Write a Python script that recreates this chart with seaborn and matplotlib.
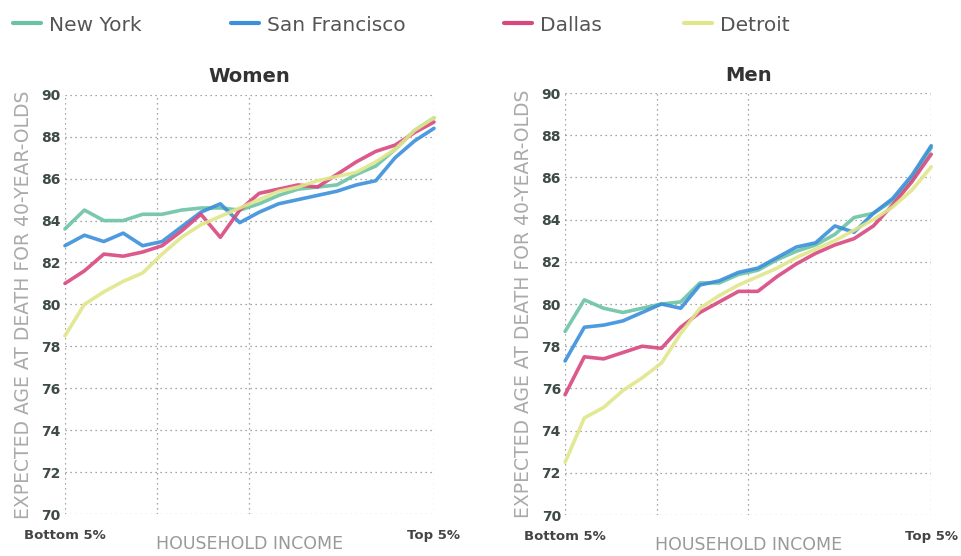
import numpy as np
import pandas as pd
import matplotlib
matplotlib.use('Agg')
import matplotlib.pyplot as plt
import seaborn as sns

# income ventiles, bottom 5% .. top 5%
ventile = list(range(20))
cities = ['New York', 'San Francisco', 'Dallas', 'Detroit']
colors = {'New York': '#6cc3a4', 'San Francisco': '#3b8fdb',
          'Dallas': '#d8487f', 'Detroit': '#e0e68a'}

women_ny = [83.6, 84.5, 84.0, 84.0, 84.3, 84.3, 84.5, 84.6, 84.6, 84.5,
            84.8, 85.2, 85.5, 85.6, 85.7, 86.2, 86.6, 87.4, 88.3, 88.9]
women_sf = [82.8, 83.3, 83.0, 83.4, 82.8, 83.0, 83.7, 84.4, 84.8, 83.9,
            84.4, 84.8, 85.0, 85.2, 85.4, 85.7, 85.9, 87.0, 87.8, 88.4]
women_dallas = [81.0, 81.6, 82.4, 82.3, 82.5, 82.8, 83.5, 84.3, 83.2, 84.5,
                85.3, 85.5, 85.7, 85.6, 86.2, 86.8, 87.3, 87.6, 88.2, 88.7]
women_detroit = [78.5, 80.0, 80.6, 81.1, 81.5, 82.4, 83.2, 83.8, 84.2, 84.6,
                 85.0, 85.4, 85.6, 85.9, 86.1, 86.3, 86.8, 87.4, 88.3, 88.9]

men_ny = [78.7, 80.2, 79.8, 79.6, 79.8, 80.0, 80.1, 81.0, 81.0, 81.4,
          81.6, 82.1, 82.5, 82.8, 83.3, 84.1, 84.3, 84.9, 85.9, 87.4]
men_sf = [77.3, 78.9, 79.0, 79.2, 79.6, 80.0, 79.8, 80.9, 81.1, 81.5,
          81.7, 82.2, 82.7, 82.9, 83.7, 83.4, 84.3, 85.0, 86.1, 87.5]
men_dallas = [75.7, 77.5, 77.4, 77.7, 78.0, 77.9, 78.9, 79.6, 80.1, 80.6,
              80.6, 81.3, 81.9, 82.4, 82.8, 83.1, 83.7, 84.7, 85.8, 87.1]
men_detroit = [72.5, 74.6, 75.1, 75.9, 76.5, 77.2, 78.6, 79.8, 80.4, 80.9,
               81.3, 81.7, 82.2, 82.6, 83.0, 83.5, 84.0, 84.6, 85.4, 86.5]

women = {'New York': women_ny, 'San Francisco': women_sf,
         'Dallas': women_dallas, 'Detroit': women_detroit}
men = {'New York': men_ny, 'San Francisco': men_sf,
       'Dallas': men_dallas, 'Detroit': men_detroit}


def to_long(d):
    rows = []
    for c in cities:
        for x, v in zip(ventile, d[c]):
            rows.append((c, x, v))
    return pd.DataFrame(rows, columns=['city', 'ventile', 'age'])


sns.set_style('white')
plt.rcParams['font.family'] = ['DejaVu Sans']

fig = plt.figure(figsize=(9.61, 5.56), dpi=100)
ax_w = fig.add_axes([0.0676, 0.0755, 0.384, 0.754])
ax_m = fig.add_axes([0.588, 0.0737, 0.381, 0.759])

for ax, data, title in [(ax_w, women, 'Women'), (ax_m, men, 'Men')]:
    df = to_long(data)
    sns.lineplot(data=df, x='ventile', y='age', hue='city', hue_order=cities,
                 palette=colors, linewidth=2.6, alpha=0.9, legend=False, ax=ax)
    for ln in ax.lines:
        ln.set_clip_on(False)
    ax.set_xlim(0, 19)
    ax.set_ylim(70, 90)
    ax.set_yticks(np.arange(70, 91, 2))
    ax.set_xticks([0, 4.75, 9.5, 19])
    ax.set_xticklabels(['Bottom 5%', '', '', 'Top 5%'], fontweight='bold',
                       fontsize=9.5, color='#444444')
    ax.tick_params(axis='x', length=0, pad=11)
    ax.tick_params(axis='y', length=0, pad=3, labelsize=10, labelcolor='#3d4a45')
    for t in ax.get_yticklabels():
        t.set_fontweight('bold')
    ax.grid(True, linestyle=(0, (1, 3)), color='#888888', linewidth=0.9)
    for s in ax.spines.values():
        s.set_visible(False)
    ax.set_title(title, fontweight='bold', fontsize=14, color='#333333', pad=9)
    ax.set_xlabel('HOUSEHOLD INCOME', fontsize=12.5, color='#999999', labelpad=-5)
    ax.set_ylabel('EXPECTED AGE AT DEATH FOR 40-YEAR-OLDS', fontsize=13.5,
                  color='#aaaaaa', labelpad=6)

# legend across the top
legend_x = [0.005, 0.232, 0.516, 0.703]
for c, lx in zip(cities, legend_x):
    h = plt.Line2D([], [], color=colors[c], linewidth=3)
    fig.legend([h], [c], loc='center left', bbox_to_anchor=(lx, 0.955),
               frameon=False, handlelength=1.4, handletextpad=0.4,
               prop={'size': 14.5}, labelcolor='#555555', borderaxespad=0)

fig.savefig('out.png', dpi=100)
